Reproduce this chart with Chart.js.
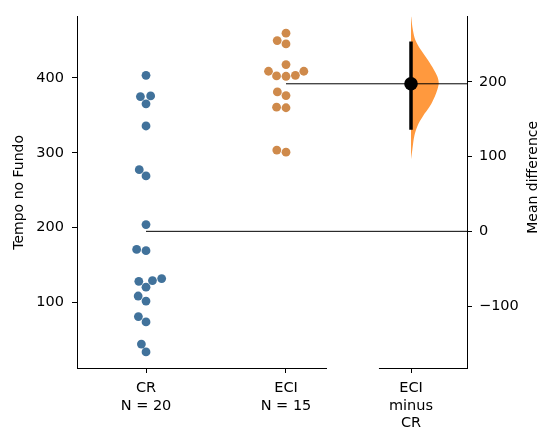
<!DOCTYPE html>
<html>
<head>
<meta charset="utf-8">
<script src="https://cdn.jsdelivr.net/npm/chart.js@4.4.0/dist/chart.umd.min.js"></script>
<style>
  html, body { margin: 0; padding: 0; background: #fff; }
</style>
</head>
<body>
<canvas id="grafico" width="541" height="427"></canvas>
<script>
// Valores (Tempo no Fundo)
const valoresCR = [403.6, 375.2, 376, 365.5, 335.8, 277.4, 269, 203.9, 169, 170.7,
                   128, 129, 131.7, 120.2, 108.3, 101.6, 73.7, 80.8, 44, 33.5];
const valoresECI = [460, 450, 445.6, 418, 409, 402.7, 402.3, 403.6, 409, 381.4,
                    376.5, 361, 360.2, 303.5, 300.8];
const rotulosX = [['CR', 'N = 20'], ['ECI', 'N = 15'], ['ECI', 'minus', 'CR']];
const ticksY = [100, 200, 300, 400];
const ticksDif = [-100, 0, 100, 200];

// IC 95% da diferença das médias
const icDiferenca = [136, 254];
// perfil da distribuição bootstrap (meio violino): diferença x densidade relativa
const violinoDif  = [289, 269, 255.8, 242.5, 229.2, 215.9, 207, 198.3, 189.4, 180.5, 167.2, 154, 140.7, 127.4, 109.7, 96.4];
const violinoDens = [0, 0.07, 0.16, 0.36, 0.61, 0.83, 0.95, 1, 0.95, 0.86, 0.68, 0.43, 0.23, 0.12, 0.05, 0];

const corCR = '#41729b';
const corECI = '#cf8a4b';
const corViolino = '#ff993e';
const fonte = { family: 'DejaVu Sans', size: 14.5 };

// posições no eixo x
const posGrupos = [0, 1];
const posEfeito = 1.893;
const xMin = -0.493, xMax = 2.293;
const yMin = 12, yMax = 482;
const larguraViolino = 0.198;

function media(arr) {
  return arr.reduce((a, b) => a + b, 0) / arr.length;
}
const mediaCR = media(valoresCR);
const mediaECI = media(valoresECI);
const diferenca = mediaECI - mediaCR;

function menos(v) {
  return v < 0 ? '\u2212' + Math.abs(v) : '' + v;
}

// linha de base quebrada do eixo x + título do eixo da direita (lido de baixo pra cima)
const extras = {
  id: 'extras',
  afterDraw(chart) {
    const c = chart.ctx, x = chart.scales.x, area = chart.chartArea, y = area.bottom;
    c.save();
    c.strokeStyle = '#000';
    c.lineWidth = 1;
    c.beginPath();
    c.moveTo(x.getPixelForValue(xMin), y + 0.5);
    c.lineTo(x.getPixelForValue(1.293), y + 0.5);
    c.moveTo(x.getPixelForValue(1.664), y + 0.5);
    c.lineTo(x.getPixelForValue(xMax), y + 0.5);
    c.stroke();

    const y2 = chart.scales.y2;
    c.translate(y2.right - 8, (area.top + area.bottom) / 2 - 15);
    c.rotate(-Math.PI / 2);
    c.fillStyle = '#000';
    c.font = '14px "DejaVu Sans"';
    c.textAlign = 'center';
    c.textBaseline = 'middle';
    c.fillText('Mean difference', 0, 0);
    c.restore();
  }
};

const ctx = document.getElementById('grafico').getContext('2d');

const grafico = new Chart(ctx, {
  type: 'scatter',
  data: {
    datasets: [
      {
        label: 'CR',
        data: valoresCR.map(v => ({ x: posGrupos[0], y: v })),
        backgroundColor: corCR,
        borderWidth: 0,
        pointRadius: 4.4,
        order: 3
      },
      {
        label: 'ECI',
        data: valoresECI.map(v => ({ x: posGrupos[1], y: v })),
        backgroundColor: corECI,
        borderWidth: 0,
        pointRadius: 4.4,
        order: 3
      },
      {
        label: 'media CR',
        type: 'line',
        data: [{ x: posGrupos[0], y: mediaCR }, { x: xMax, y: mediaCR }],
        borderColor: '#000',
        borderWidth: 1,
        pointRadius: 0,
        order: 4
      },
      {
        label: 'media ECI',
        type: 'line',
        data: [{ x: posGrupos[1], y: mediaECI }, { x: xMax, y: mediaECI }],
        borderColor: '#000',
        borderWidth: 1,
        pointRadius: 0,
        order: 4
      },
      {
        label: 'bootstrap',
        type: 'line',
        indexAxis: 'y',
        yAxisID: 'y2',
        data: violinoDif.map((d, i) => ({ x: posEfeito + violinoDens[i] * larguraViolino, y: d })),
        borderWidth: 0,
        borderColor: 'rgba(0,0,0,0)',
        backgroundColor: corViolino,
        fill: 'shape',
        tension: 0.35,
        pointRadius: 0,
        order: 6
      },
      {
        label: 'IC',
        type: 'line',
        yAxisID: 'y2',
        data: [{ x: posEfeito, y: icDiferenca[0] }, { x: posEfeito, y: icDiferenca[1] }],
        borderColor: '#000',
        borderWidth: 3.5,
        pointRadius: 0,
        order: 2
      },
      {
        label: 'diferenca',
        yAxisID: 'y2',
        data: [{ x: posEfeito, y: diferenca }],
        backgroundColor: '#000',
        borderWidth: 0,
        pointRadius: 6.8,
        order: 1
      }
    ]
  },
  options: {
    responsive: false,
    animation: false,
    layout: { padding: { top: 14, left: 0, right: 0, bottom: 0 } },
    plugins: {
      legend: { display: false },
      tooltip: { enabled: false }
    },
    scales: {
      x: {
        type: 'linear',
        min: xMin,
        max: xMax,
        afterBuildTicks: s => { s.ticks = [posGrupos[0], posGrupos[1], posEfeito].map(v => ({ value: v })); },
        afterFit: s => { s.height = 59; },
        ticks: {
          callback: (v, i) => rotulosX[i],
          autoSkip: false,
          maxRotation: 0,
          color: '#000',
          font: { family: 'DejaVu Sans', size: 14.5, lineHeight: 1.2 },
          padding: 7
        },
        grid: { drawOnChartArea: false, drawTicks: true, tickLength: 5, color: '#000', lineWidth: 1 },
        border: { display: false }
      },
      y: {
        type: 'linear',
        position: 'left',
        min: yMin,
        max: yMax,
        afterBuildTicks: s => { s.ticks = ticksY.map(v => ({ value: v })); },
        afterFit: s => { s.width = 77; },
        ticks: { color: '#000', font: fonte, padding: 8 },
        grid: { drawOnChartArea: false, drawTicks: true, tickLength: 5, color: '#000', lineWidth: 1 },
        border: { display: true, color: '#000', width: 1 },
        title: {
          display: true,
          text: 'Tempo no Fundo',
          color: '#000',
          font: { family: 'DejaVu Sans', size: 14, lineHeight: 1 },
          padding: { top: 12, bottom: 0 }
        }
      },
      y2: {
        type: 'linear',
        position: 'right',
        min: yMin - mediaCR,
        max: yMax - mediaCR,
        afterBuildTicks: s => { s.ticks = ticksDif.map(v => ({ value: v })); },
        afterFit: s => { s.width = 74; },
        ticks: { color: '#000', font: fonte, padding: 7, callback: v => menos(v) },
        grid: { drawOnChartArea: false, drawTicks: true, tickLength: 5, color: '#000', lineWidth: 1 },
        border: { display: true, color: '#000', width: 1 }
      }
    }
  },
  plugins: [extras]
});

// espalha os pontos como o swarmplot do seaborn (em pixels, usando as escalas do gráfico)
function swarm(valores, centro, diam) {
  const sx = grafico.scales.x, sy = grafico.scales.y;
  const cx = sx.getPixelForValue(centro);
  const pts = valores.map((v, i) => ({ i: i, v: v, py: sy.getPixelForValue(v) }));
  pts.sort((a, b) => a.v - b.v);
  const colocados = [];
  pts.forEach(p => {
    const vizinhos = colocados.filter(q => Math.abs(q.py - p.py) < diam);
    const cands = [cx];
    let esquerdaPrimeiro = true;
    vizinhos.forEach(q => {
      const dy = q.py - p.py;
      const dx = Math.sqrt(Math.max(diam * diam - dy * dy, 0)) * 1.05;
      if (esquerdaPrimeiro) cands.push(q.px - dx, q.px + dx);
      else cands.push(q.px + dx, q.px - dx);
      esquerdaPrimeiro = !esquerdaPrimeiro;
    });
    const ordem = cands.map((c, k) => ({ c: c, k: k }))
      .sort((a, b) => (Math.abs(a.c - cx) - Math.abs(b.c - cx)) || (a.k - b.k));
    const ok = ordem.find(o => vizinhos.every(q => Math.hypot(q.px - o.c, q.py - p.py) >= diam - 0.01));
    p.px = ok ? ok.c : cx;
    colocados.push(p);
  });
  const saida = [];
  colocados.forEach(p => { saida[p.i] = { x: sx.getValueForPixel(p.px), y: p.v }; });
  return saida;
}

grafico.data.datasets[0].data = swarm(valoresCR, posGrupos[0], 9);
grafico.data.datasets[1].data = swarm(valoresECI, posGrupos[1], 9);
grafico.update('none');
</script>
</body>
</html>
